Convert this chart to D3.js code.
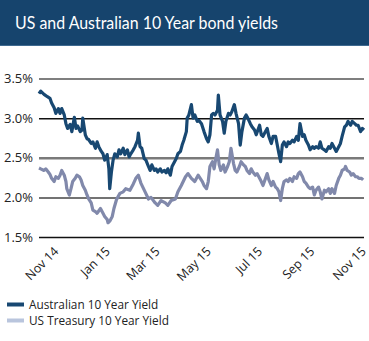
<!DOCTYPE html>
<html><head><meta charset="utf-8">
<script src="https://cdn.jsdelivr.net/npm/d3@7"></script>
<style>
html,body{margin:0;padding:0;background:#fff;}
svg{display:block;}
</style></head>
<body>
<svg id="c" width="369" height="341"></svg>
<script>
const title = "US and Australian 10 Year bond yields";
const seriesNames = ["Australian 10 Year Yield", "US Treasury 10 Year Yield"];
const yTicks = [1.5, 2.0, 2.5, 3.0, 3.5];
const xTickDates = ["2014-11-01","2015-01-01","2015-03-01","2015-05-01","2015-07-01","2015-09-01","2015-11-01"];

const ausData = [
["2014-10-18",3.31],["2014-10-20",3.34],["2014-10-24",3.30],["2014-10-28",3.27],["2014-10-31",3.25],
["2014-11-02",3.19],["2014-11-05",3.13],["2014-11-07",3.06],["2014-11-10",3.12],["2014-11-12",3.06],
["2014-11-14",3.12],["2014-11-17",3.04],["2014-11-19",2.93],["2014-11-21",2.87],["2014-11-24",2.92],
["2014-11-26",2.83],["2014-11-29",3.01],["2014-12-01",2.87],["2014-12-03",2.90],["2014-12-06",2.83],
["2014-12-08",2.85],["2014-12-09",3.00],["2014-12-12",2.79],["2014-12-14",2.74],["2014-12-16",2.73],
["2014-12-19",2.68],["2014-12-21",2.70],["2014-12-24",2.62],["2014-12-26",2.70],["2014-12-28",2.64],
["2014-12-31",2.58],["2015-01-02",2.55],["2015-01-04",2.47],["2015-01-07",2.54],["2015-01-09",2.36],
["2015-01-10",2.11],["2015-01-12",2.32],["2015-01-14",2.47],["2015-01-16",2.55],["2015-01-19",2.51],
["2015-01-21",2.60],["2015-01-23",2.55],["2015-01-26",2.62],["2015-01-28",2.54],["2015-01-31",2.60],
["2015-02-02",2.51],["2015-02-04",2.55],["2015-02-07",2.60],["2015-02-09",2.64],["2015-02-12",2.72],
["2015-02-13",2.81],["2015-02-15",2.64],["2015-02-17",2.62],["2015-02-20",2.49],["2015-02-22",2.47],
["2015-02-25",2.39],["2015-02-27",2.34],["2015-03-01",2.41],["2015-03-04",2.34],["2015-03-06",2.36],
["2015-03-08",2.32],["2015-03-11",2.36],["2015-03-13",2.32],["2015-03-16",2.34],["2015-03-18",2.31],
["2015-03-20",2.36],["2015-03-23",2.28],["2015-03-25",2.39],["2015-03-28",2.45],["2015-03-30",2.49],
["2015-04-01",2.55],["2015-04-04",2.58],["2015-04-06",2.66],["2015-04-08",2.72],["2015-04-11",2.83],
["2015-04-12",3.00],["2015-04-14",3.04],["2015-04-17",3.17],["2015-04-19",3.00],["2015-04-21",3.04],
["2015-04-24",2.96],["2015-04-26",2.97],["2015-04-29",2.93],["2015-05-02",2.83],["2015-05-05",2.74],
["2015-05-07",2.70],["2015-05-09",2.79],["2015-05-11",3.04],["2015-05-13",3.06],["2015-05-15",3.04],
["2015-05-18",3.10],["2015-05-19",3.29],["2015-05-21",3.04],["2015-05-24",2.96],["2015-05-26",2.81],
["2015-05-28",2.96],["2015-05-31",3.06],["2015-06-02",3.04],["2015-06-04",3.08],["2015-06-07",3.17],
["2015-06-09",3.06],["2015-06-12",2.93],["2015-06-14",2.66],["2015-06-16",2.83],["2015-06-19",3.00],
["2015-06-21",3.04],["2015-06-23",3.00],["2015-06-26",2.93],["2015-06-28",2.89],["2015-07-01",2.85],
["2015-07-03",2.79],["2015-07-05",2.85],["2015-07-07",2.91],["2015-07-09",2.79],["2015-07-11",2.77],
["2015-07-14",2.83],["2015-07-16",2.87],["2015-07-18",2.77],["2015-07-21",2.68],["2015-07-23",2.77],
["2015-07-26",2.77],["2015-07-28",2.66],["2015-07-30",2.55],["2015-08-01",2.45],["2015-08-03",2.66],
["2015-08-05",2.70],["2015-08-08",2.64],["2015-08-10",2.70],["2015-08-12",2.68],["2015-08-15",2.72],
["2015-08-17",2.70],["2015-08-20",2.77],["2015-08-22",2.72],["2015-08-24",2.93],["2015-08-27",2.77],
["2015-08-29",2.79],["2015-08-31",2.72],["2015-09-03",2.66],["2015-09-05",2.60],["2015-09-08",2.64],
["2015-09-10",2.62],["2015-09-12",2.64],["2015-09-15",2.62],["2015-09-17",2.70],["2015-09-19",2.62],
["2015-09-22",2.60],["2015-09-24",2.58],["2015-09-27",2.64],["2015-09-29",2.62],["2015-10-01",2.68],
["2015-10-04",2.62],["2015-10-06",2.58],["2015-10-09",2.64],["2015-10-11",2.68],["2015-10-13",2.77],
["2015-10-16",2.89],["2015-10-18",2.91],["2015-10-20",2.96],["2015-10-23",2.91],["2015-10-25",2.96],
["2015-10-28",2.93],["2015-10-30",2.91],["2015-11-01",2.91],["2015-11-04",2.83],["2015-11-06",2.87],
["2015-11-08",2.85]
];

const usData = [
["2014-10-18",2.37],["2014-10-20",2.36],["2014-10-24",2.34],["2014-10-26",2.36],["2014-10-29",2.32],
["2014-10-31",2.29],["2014-11-02",2.24],["2014-11-05",2.20],["2014-11-07",2.26],["2014-11-10",2.24],
["2014-11-12",2.28],["2014-11-14",2.34],["2014-11-17",2.28],["2014-11-19",2.20],["2014-11-20",2.11],
["2014-11-23",2.03],["2014-11-25",2.11],["2014-11-27",2.20],["2014-11-30",2.24],["2014-12-02",2.28],
["2014-12-05",2.26],["2014-12-07",2.22],["2014-12-09",2.15],["2014-12-12",2.09],["2014-12-14",2.03],
["2014-12-16",1.98],["2014-12-19",1.93],["2014-12-21",1.84],["2014-12-24",1.82],["2014-12-26",1.80],
["2014-12-30",1.86],["2015-01-02",1.80],["2015-01-04",1.76],["2015-01-07",1.72],["2015-01-08",1.68],
["2015-01-10",1.70],["2015-01-13",1.76],["2015-01-15",1.86],["2015-01-18",1.97],["2015-01-20",2.01],
["2015-01-22",2.05],["2015-01-26",2.07],["2015-01-29",2.11],["2015-02-03",2.09],["2015-02-07",2.17],
["2015-02-10",2.24],["2015-02-13",2.28],["2015-02-16",2.18],["2015-02-21",2.07],["2015-02-25",1.98],
["2015-02-28",2.00],["2015-03-05",1.93],["2015-03-08",1.90],["2015-03-12",1.96],["2015-03-17",1.93],
["2015-03-20",1.90],["2015-03-24",1.96],["2015-03-29",1.98],["2015-04-01",2.07],["2015-04-05",2.15],
["2015-04-10",2.26],["2015-04-13",2.30],["2015-04-17",2.24],["2015-04-21",2.20],["2015-04-25",2.28],
["2015-04-30",2.20],["2015-05-02",2.15],["2015-05-05",2.11],["2015-05-07",2.20],["2015-05-09",2.39],
["2015-05-12",2.45],["2015-05-14",2.36],["2015-05-16",2.49],["2015-05-18",2.60],["2015-05-20",2.41],
["2015-05-22",2.34],["2015-05-25",2.41],["2015-05-27",2.32],["2015-05-30",2.39],["2015-06-01",2.45],
["2015-06-03",2.62],["2015-06-06",2.43],["2015-06-08",2.34],["2015-06-10",2.32],["2015-06-13",2.39],
["2015-06-15",2.45],["2015-06-18",2.41],["2015-06-20",2.39],["2015-06-22",2.34],["2015-06-25",2.30],
["2015-06-27",2.36],["2015-06-29",2.32],["2015-07-02",2.28],["2015-07-04",2.30],["2015-07-07",2.24],
["2015-07-09",2.20],["2015-07-11",2.15],["2015-07-14",2.24],["2015-07-16",2.30],["2015-07-18",2.22],
["2015-07-21",2.15],["2015-07-23",2.20],["2015-07-26",2.13],["2015-07-28",2.11],["2015-07-30",2.07],
["2015-08-01",1.96],["2015-08-03",2.11],["2015-08-05",2.20],["2015-08-08",2.22],["2015-08-10",2.20],
["2015-08-12",2.24],["2015-08-15",2.20],["2015-08-17",2.26],["2015-08-20",2.24],["2015-08-22",2.30],
["2015-08-24",2.32],["2015-08-27",2.26],["2015-08-29",2.20],["2015-08-31",2.18],["2015-09-03",2.13],
["2015-09-05",2.11],["2015-09-08",2.13],["2015-09-10",2.03],["2015-09-12",2.09],["2015-09-15",2.13],
["2015-09-17",2.07],["2015-09-19",1.98],["2015-09-22",2.09],["2015-09-24",2.07],["2015-09-27",2.11],
["2015-09-29",2.05],["2015-10-01",2.11],["2015-10-04",2.05],["2015-10-06",2.15],["2015-10-09",2.24],
["2015-10-11",2.28],["2015-10-13",2.34],["2015-10-16",2.36],["2015-10-17",2.39],["2015-10-19",2.34],
["2015-10-22",2.32],["2015-10-24",2.28],["2015-10-26",2.30],["2015-10-29",2.26],["2015-10-31",2.26],
["2015-11-02",2.24],["2015-11-05",2.24],["2015-11-07",2.22]
];

const parse = d3.timeParse("%Y-%m-%d");
const fmt = d3.timeFormat("%b %y");
const colors = {aus:"#184872", us:"#8189ab", usLegend:"#b9c5dd", banner:"#16446d"};

const svg = d3.select("#c");
const W = 369, H = 341;
const plot = {left:39, right:364, top:78.5, bottom:237};

// banner
svg.append("rect").attr("x",0).attr("y",0).attr("width",W).attr("height",46).attr("fill",colors.banner);
svg.append("rect").attr("x",0).attr("y",45).attr("width",W).attr("height",1).attr("fill","#3f6a90");
svg.append("text").attr("x",15).attr("y",28.5).attr("fill","#fff")
  .attr("font-family","Lato, 'Open Sans', sans-serif").attr("font-size",17)
  .attr("textLength",263).attr("lengthAdjust","spacingAndGlyphs").text(title);

const x = d3.scaleTime()
  .domain([parse("2014-10-18"), parse("2015-11-08")])
  .range([plot.left, plot.right]);
const y = d3.scaleLinear().domain([1.5,3.5]).range([plot.bottom, plot.top]);

// gridlines
const gridStyle = {"3.5":["#555",1.5],"3":["#111",1.5],"2.5":["#7a7a7a",2.5],"2":["#444",1.5],"1.5":["#111",1.5]};
const yAxis = d3.axisLeft(y).tickValues(yTicks).tickSize(-(plot.right-plot.left)).tickPadding(6)
  .tickFormat(d => d.toFixed(1) + "%");
const gy = svg.append("g").attr("transform",`translate(${plot.left},0)`).call(yAxis);
gy.select(".domain").remove();
gy.selectAll(".tick line").each(function(d){
  const s = gridStyle[String(d)];
  d3.select(this).attr("stroke",s[0]).attr("stroke-width",s[1]);
});
gy.selectAll(".tick text").attr("font-family","'Open Sans', sans-serif").attr("font-size",13).attr("fill","#222");

// x axis labels
const xAxis = d3.axisBottom(x).tickValues(xTickDates.map(parse)).tickSize(0).tickFormat(fmt);
const gx = svg.append("g").attr("transform",`translate(0,${plot.bottom})`).call(xAxis);
gx.select(".domain").remove();
gx.selectAll(".tick text")
  .attr("font-family","'Open Sans', sans-serif").attr("font-size",12.5).attr("fill","#222")
  .attr("text-anchor","end").attr("dx",0).attr("dy",0)
  .attr("transform","translate(6,13) rotate(-45)");

// lines
const line = d3.line().x(d => x(parse(d[0]))).y(d => y(d[1]));
svg.append("path").datum(usData).attr("d",line).attr("fill","none")
  .attr("stroke",colors.us).attr("stroke-width",3.2).attr("stroke-linejoin","round");
svg.append("path").datum(ausData).attr("d",line).attr("fill","none")
  .attr("stroke",colors.aus).attr("stroke-width",3.2).attr("stroke-linejoin","round");

// legend
const legend = svg.append("g");
const legendColors = [colors.aus, colors.usLegend];
seriesNames.forEach((n,i) => {
  const ly = 304.5 + i*16;
  legend.append("line").attr("x1",7).attr("x2",24).attr("y1",ly).attr("y2",ly)
    .attr("stroke",legendColors[i]).attr("stroke-width",4);
  legend.append("text").attr("x",29).attr("y",ly+4.5).attr("font-family","'Open Sans', sans-serif")
    .attr("font-size",11.8).attr("fill","#222").text(n);
});
</script>
</body></html>
